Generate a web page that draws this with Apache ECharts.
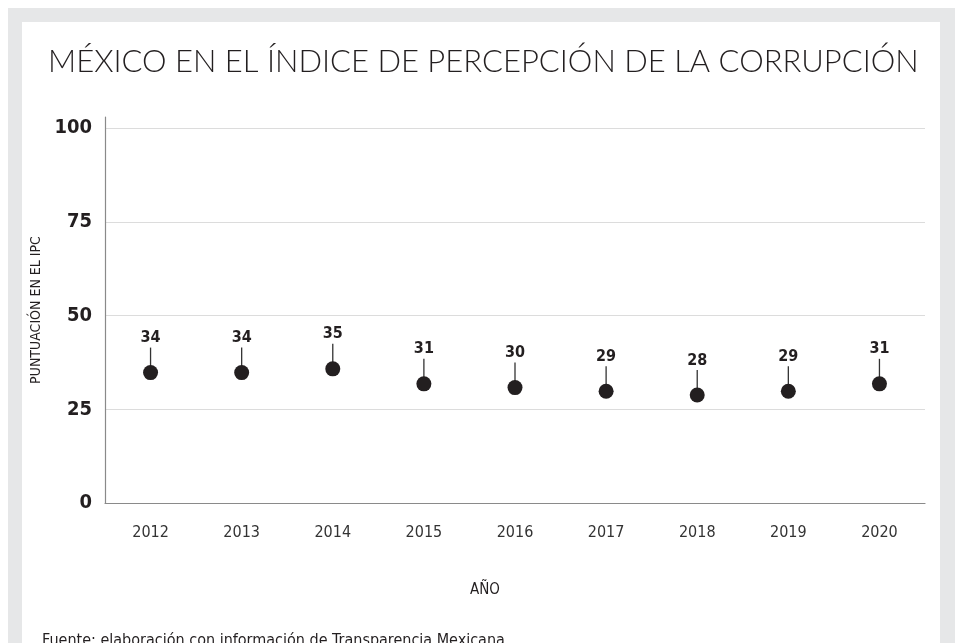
<!DOCTYPE html>
<html>
<head>
<meta charset="utf-8">
<script src="https://cdn.jsdelivr.net/npm/echarts@6/dist/echarts.min.js"></script>
<style>
  html, body { margin: 0; padding: 0; background: #fff; }
  #frame { position: absolute; left: 8px; top: 8px; width: 947px; height: 640px; background: #e6e7e8; }
  #panel { position: absolute; left: 22px; top: 22px; width: 918px; height: 621px; background: #fff; }
  #chart { position: absolute; left: 0; top: 0; width: 958px; height: 643px; }
</style>
</head>
<body>
<div id="frame"></div>
<div id="panel"></div>
<div id="chart"></div>
<script>
// datos del IPC
var years = ['2012', '2013', '2014', '2015', '2016', '2017', '2018', '2019', '2020']
var scores = [34, 34, 35, 31, 30, 29, 28, 29, 31]
var yTicks = [0, 25, 50, 75, 100]

var narrow = "'Liberation Sans Narrow', 'DejaVu Sans Condensed', Roboto, sans-serif"
var ink = '#231f20'

var chart = echarts.init(document.getElementById('chart'))
chart.setOption({
  backgroundColor: 'transparent',
  animation: false,
  title: [
    {
      text: 'MÉXICO EN EL ÍNDICE DE PERCEPCIÓN DE LA CORRUPCIÓN',
      left: 43,
      top: 41,
      textStyle: { fontFamily: 'Lato', fontWeight: 300, fontSize: 31, color: ink }
    },
    {
      text: 'Fuente: elaboración con información de Transparencia Mexicana',
      left: 37,
      top: 628,
      textStyle: { fontFamily: narrow, fontWeight: 'normal', fontSize: 16, color: ink }
    }
  ],
  grid: { left: 105, right: 33, top: 117, bottom: 140 },
  xAxis: {
    type: 'category',
    data: years,
    boundaryGap: true,
    name: 'AÑO',
    nameLocation: 'middle',
    nameGap: 80,
    nameTextStyle: { fontFamily: narrow, fontSize: 15, color: ink, padding: [0, 60, 0, 0] },
    axisLine: { lineStyle: { color: '#8a8a8a', width: 1.2 } },
    axisTick: { alignWithLabel: true, inside: true, length: 9, lineStyle: { color: '#8a8a8a' } },
    axisLabel: { margin: 22, fontFamily: narrow, fontSize: 16, color: '#333' },
    splitLine: { show: false }
  },
  yAxis: {
    type: 'value',
    min: 0,
    max: 103,
    interval: 25,
    name: 'PUNTUACIÓN EN EL IPC',
    nameLocation: 'middle',
    nameGap: 62,
    nameTextStyle: { fontFamily: narrow, fontSize: 14, color: ink },
    axisLine: { show: true, lineStyle: { color: '#8a8a8a', width: 1.2 } },
    axisTick: { show: false },
    axisLabel: {
      margin: 13,
      fontFamily: narrow,
      fontWeight: 'bold',
      fontSize: 20,
      color: ink,
      showMaxLabel: false,
      formatter: function (v) { return yTicks.indexOf(v) >= 0 ? v : '' }
    },
    splitLine: { show: true, showMaxLine: false, lineStyle: { color: '#dcdcdc', width: 1 } }
  },
  series: [
    { // palito
      type: 'scatter',
      data: scores,
      symbol: 'rect',
      symbolSize: [1.3, 25],
      symbolOffset: [0, -15.5],
      itemStyle: { color: '#333', opacity: 1 },
      silent: true,
      z: 2
    },
    {
      type: 'scatter',
      data: scores,
      symbol: 'circle',
      symbolSize: 15,
      symbolOffset: [0, -3],
      itemStyle: { color: ink, opacity: 1 },
      label: {
        show: true,
        position: 'top',
        distance: 19,
        fontFamily: narrow,
        fontWeight: 'bold',
        fontSize: 16,
        color: ink
      },
      z: 3
    }
  ]
})
</script>
</body>
</html>
